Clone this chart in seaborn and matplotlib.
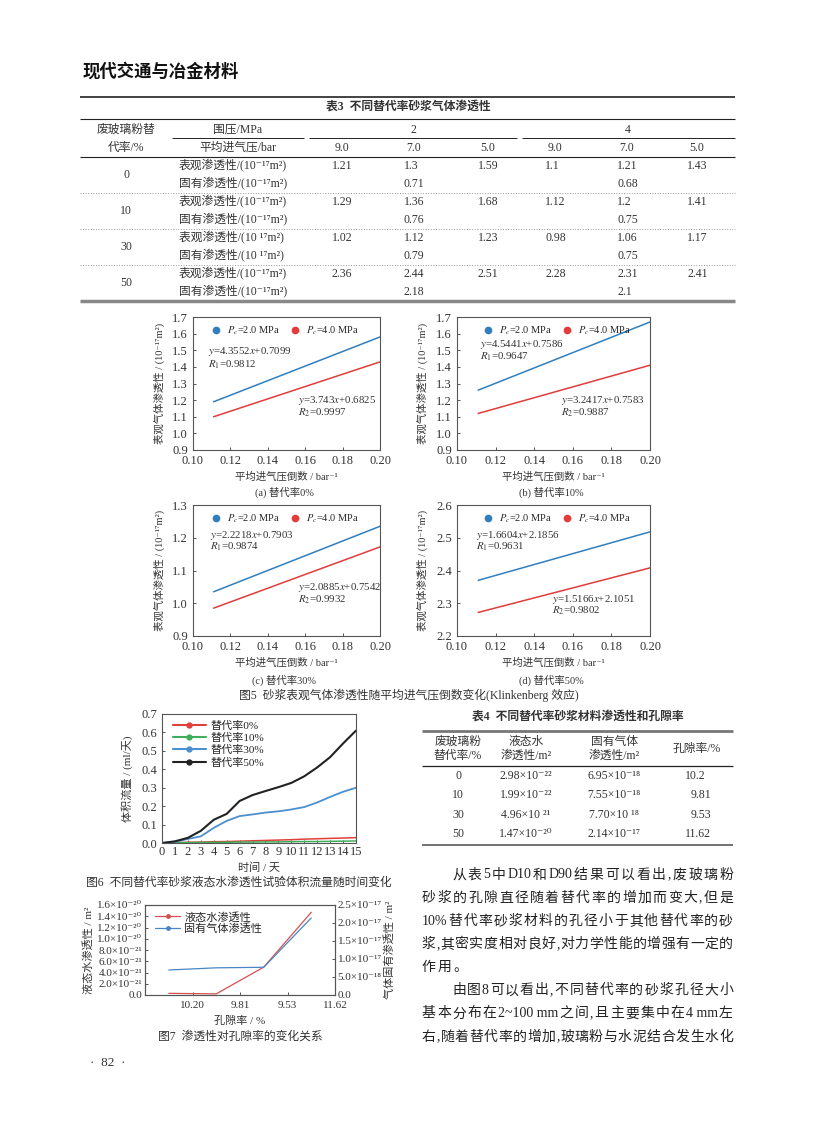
import re
import matplotlib
matplotlib.use("Agg")
import matplotlib.pyplot as plt
from matplotlib.lines import Line2D
import seaborn as sns

W, H = 816, 1145

# ---- table 3 data
RATES = ["0", "10", "30", "50"]
CONF_P = ["2", "4"]
MEAN_P = ["9.0", "7.0", "5.0", "9.0", "7.0", "5.0"]
APPARENT = [["1.21", "1.3", "1.59", "1.1", "1.21", "1.43"],
            ["1.29", "1.36", "1.68", "1.12", "1.2", "1.41"],
            ["1.02", "1.12", "1.23", "0.98", "1.06", "1.17"],
            ["2.36", "2.44", "2.51", "2.28", "2.31", "2.41"]]
INTRINSIC = [["0.71", "0.68"], ["0.76", "0.75"], ["0.79", "0.75"], ["2.18", "2.1"]]
ROW_UNIT = ["(10⁻¹⁷m²)", "(10⁻¹⁷m²)", "(10 ¹⁷m²)", "(10⁻¹⁷m²)"]

# ---- figure 5 data (fitted lines, 1/9 bar .. 1/5 bar)
INV_P = [0.111, 0.200]
A_PC2, A_PC4 = [1.19, 1.58], [1.10, 1.43]
B_PC2, B_PC4 = [1.26, 1.67], [1.12, 1.41]
C_PC2, C_PC4 = [1.035, 1.235], [0.985, 1.172]
D_PC2, D_PC4 = [2.370, 2.518], [2.272, 2.408]
A_EQ = ["4.3552", "0.7099", "0.9812", "3.743", "0.6825", "0.9997"]
B_EQ = ["4.5441", "0.7586", "0.9647", "3.2417", "0.7583", "0.9887"]
C_EQ = ["2.2218", "0.7903", "0.9874", "2.0885", "0.7542", "0.9932"]
D_EQ = ["1.6604", "2.1856", "0.9631", "1.5166", "2.1051", "0.9802"]
AB_YT = [0.9, 1.0, 1.1, 1.2, 1.3, 1.4, 1.5, 1.6, 1.7]
C_YT = [0.9, 1.0, 1.1, 1.2, 1.3]
D_YT = [2.2, 2.3, 2.4, 2.5, 2.6]
X5_T = [0.10, 0.12, 0.14, 0.16, 0.18, 0.20]

# ---- figure 6 data
DAYS = list(range(16))
FLOW_0 = [0, 0.002, 0.004, 0.005, 0.007, 0.008, 0.010, 0.012, 0.014, 0.016, 0.018, 0.021, 0.023, 0.025, 0.027, 0.029]
FLOW_10 = [0, 0.001, 0.002, 0.003, 0.003, 0.004, 0.005, 0.005, 0.006, 0.006, 0.007, 0.008, 0.008, 0.009, 0.010, 0.011]
FLOW_30 = [0, 0.006, 0.022, 0.036, 0.082, 0.120, 0.146, 0.155, 0.165, 0.172, 0.182, 0.195, 0.220, 0.250, 0.278, 0.300]
FLOW_50 = [0, 0.009, 0.028, 0.066, 0.126, 0.158, 0.228, 0.260, 0.282, 0.303, 0.326, 0.362, 0.410, 0.466, 0.540, 0.610]
FLOW_LABELS = ["替代率0%", "替代率10%", "替代率30%", "替代率50%"]

# ---- table 4 / figure 7 data
WATER_PERM = [2.98e-22, 1.99e-22, 4.96e-21, 1.47e-20]
GAS_PERM = [6.95e-18, 7.55e-18, 7.70e-18, 2.14e-17]
POROSITY = ["10.2", "9.81", "9.53", "11.62"]
WATER_TXT = ["2.98×10⁻²²", "1.99×10⁻²²", "4.96×10 ²¹", "1.47×10⁻²⁰"]
GAS_TXT = ["6.95×10⁻¹⁸", "7.55×10⁻¹⁸", "7.70×10 ¹⁸", "2.14×10⁻¹⁷"]
POR_TICKS = ["10.20", "9.81", "9.53", "11.62"]
LEFT_T = [0, 2e-21, 4e-21, 6e-21, 8e-21, 1e-20, 1.2e-20, 1.4e-20, 1.6e-20]
LEFT_TL = ["0.0", "2.0×10⁻²¹", "4.0×10⁻²¹", "6.0×10⁻²¹", "8.0×10⁻²¹",
           "1.0×10⁻²⁰", "1.2×10⁻²⁰", "1.4×10⁻²⁰", "1.6×10⁻²⁰"]
RIGHT_T = [0, 5e-18, 1e-17, 1.5e-17, 2e-17, 2.5e-17]
RIGHT_TL = ["0.0", "5.0×10⁻¹⁸", "1.0×10⁻¹⁷", "1.5×10⁻¹⁷", "2.0×10⁻¹⁷", "2.5×10⁻¹⁷"]

BODY = ["从表5中D10和D90结果可以看出,废玻璃粉",
        "砂浆的孔隙直径随着替代率的增加而变大,但是",
        "10%替代率砂浆材料的孔径小于其他替代率的砂",
        "浆,其密实度相对良好,对力学性能的增强有一定的",
        "作用。",
        "由图8可以看出,不同替代率的砂浆孔径大小",
        "基本分布在2~100 mm之间,且主要集中在4 mm左",
        "右,随着替代率的增加,玻璃粉与水泥结合发生水化"]

sns.set_theme(style="ticks")
SERIF = ["Liberation Serif", "DejaVu Serif", "Noto Sans CJK SC"]
plt.rcParams["font.family"] = SERIF
plt.rcParams["mathtext.fontset"] = "stix"
INK = "#333333"
BLUE, RED = "#2f7fc0", "#e03c3c"

fig = plt.figure(figsize=(W / 100, H / 100), dpi=100)
page = fig.add_axes([0, 0, 1, 1], zorder=-1)
page.set_xlim(0, W)
page.set_ylim(H, 0)
page.axis("off")


def txt(x, y, s, size=8.5, ha="center", **kw):
    return page.text(x, y, s, fontsize=size, ha=ha, va="center", color=INK, **kw)


def hline(y, x0, x1, lw=0.8, color="#222222", ls="-"):
    page.plot([x0, x1], [y, y], lw=lw, color=color, ls=ls, solid_capstyle="butt")


def px_axes(l, t, r, b):
    return fig.add_axes([l / W, 1 - b / H, (r - l) / W, (b - t) / H])


def style_ax(ax, size=8.5):
    for s in ax.spines.values():
        s.set_color("#555555")
        s.set_linewidth(0.8)
    ax.tick_params(direction="in", length=2.5, width=0.7, labelsize=size,
                   colors="#555555", labelcolor=INK)


# ---- header
page.text(83, 72, "现代交通与冶金材料", fontsize=12.5, fontweight="black",
          family="Noto Sans CJK SC", va="center", ha="left", color="#111111")

# ---- table 3
hline(97, 80, 735, lw=1.2)
txt(408, 108, "表3  不同替代率砂浆气体渗透性", size=8.5, fontweight="bold")
hline(119, 80, 735, lw=0.8)
txt(126, 130, "废玻璃粉替")
txt(126, 148, "代率/%")
txt(238, 130, "围压/MPa")
txt(238, 148, "平均进气压/bar")
txt(413, 130, CONF_P[0])
txt(628, 130, CONF_P[1])
hline(138, 172, 304, lw=0.7)
hline(138, 309, 517, lw=0.7)
hline(138, 522, 735, lw=0.7)
col_x = [342, 414, 488, 555, 627, 697]
for cx, p in zip(col_x, MEAN_P):
    txt(cx, 148, p)
hline(157, 80, 735, lw=0.8)
for i, rate in enumerate(RATES):
    y0 = 166 + 36 * i
    txt(126, y0 + 9, rate)
    txt(179, y0, "表观渗透性/" + ROW_UNIT[i], ha="left")
    txt(179, y0 + 18, "固有渗透性/" + ROW_UNIT[i], ha="left")
    for cx, v in zip(col_x, APPARENT[i]):
        txt(cx - 10, y0, v, ha="left")
    txt(col_x[1] - 10, y0 + 18, INTRINSIC[i][0], ha="left")
    txt(col_x[4] - 10, y0 + 18, INTRINSIC[i][1], ha="left")
    if i < 3:
        hline(y0 + 27, 80, 735, lw=0.7, color="#999999", ls=":")
hline(301, 80, 735, lw=2.5, color="#888888")

# ---- figure 5
panels = [
    ((193, 317, 380, 450), "(a) 替代率0%", 492, A_PC2, A_PC4, AB_YT, A_EQ,
     [(0.08, 0.74), (0.08, 0.64), (0.56, 0.375), (0.56, 0.28)], (0.03, 1.0)),
    ((457, 317, 650, 450), "(b) 替代率10%", 492, B_PC2, B_PC4, AB_YT, B_EQ,
     [(0.12, 0.79), (0.12, 0.70), (0.54, 0.375), (0.54, 0.28)], (0.07, 1.0)),
    ((193, 505, 380, 636), "(c) 替代率30%", 680, C_PC2, C_PC4, C_YT, C_EQ,
     [(0.09, 0.77), (0.09, 0.68), (0.56, 0.37), (0.56, 0.28)], (0.03, 1.0)),
    ((457, 505, 650, 636), "(d) 替代率50%", 680, D_PC2, D_PC4, D_YT, D_EQ,
     [(0.10, 0.77), (0.10, 0.68), (0.49, 0.28), (0.49, 0.19)], (0.07, 1.0)),
]
for pos, cap, cap_y, y2, y4, yt, eq, eq_pos, leg_anchor in panels:
    ax = px_axes(*pos)
    sns.lineplot(x=INV_P, y=y2, ax=ax, color=BLUE, lw=1.1)
    sns.lineplot(x=INV_P, y=y4, ax=ax, color=RED, lw=1.1)
    ax.set_xlim(0.10, 0.20)
    ax.set_ylim(yt[0], yt[-1])
    ax.set_xticks(X5_T)
    ax.set_xticklabels(["%.2f" % v for v in X5_T])
    ax.set_yticks(yt)
    ax.set_yticklabels(["%.1f" % v for v in yt])
    style_ax(ax, 9)
    ax.set_xlabel("平均进气压倒数 / bar⁻¹", fontsize=7.5, color=INK)
    ax.set_ylabel("表观气体渗透性 / (10⁻¹⁷m²)", fontsize=7.5, color=INK)
    ax.xaxis.set_label_coords(0.5, -0.16)
    ax.yaxis.set_label_coords(-0.15, 0.5)
    handles = [Line2D([], [], ls="", marker="o", ms=4.5, color=BLUE),
               Line2D([], [], ls="", marker="o", ms=4.5, color=RED)]
    ax.legend(handles, ["$P_c$=2.0 MPa", "$P_c$=4.0 MPa"], loc="upper left",
              bbox_to_anchor=leg_anchor, ncol=2, frameon=False, fontsize=7.5,
              handletextpad=0.0, columnspacing=0.5, borderaxespad=0.3)
    tk = dict(transform=ax.transAxes, fontsize=7.8, color=INK, va="center")
    ax.text(*eq_pos[0], "$y$=%s$x$+%s" % (eq[0], eq[1]), **tk)
    ax.text(*eq_pos[1], "$R_1$=%s" % eq[2], **tk)
    ax.text(*eq_pos[2], "$y$=%s$x$+%s" % (eq[3], eq[4]), **tk)
    ax.text(*eq_pos[3], "$R_2$=%s" % eq[5], **tk)
    txt((pos[0] + pos[2]) / 2 - 2, cap_y, cap, size=7.5)
txt(409, 695, "图5  砂浆表观气体渗透性随平均进气压倒数变化(Klinkenberg 效应)", size=8.5)

# ---- figure 6
ax6 = px_axes(162, 714, 356, 843)
flow_colors = ["#e0403a", "#3fae5a", "#4a8fd0", "#222222"]
for ys, c, w in zip([FLOW_0, FLOW_10, FLOW_30, FLOW_50], flow_colors, [1.1, 1.1, 1.3, 1.5]):
    sns.lineplot(x=DAYS, y=ys, ax=ax6, color=c, lw=w)
ax6.set_xlim(0, 15)
ax6.set_ylim(0, 0.7)
ax6.set_xticks(DAYS)
ax6.set_yticks([0, 0.1, 0.2, 0.3, 0.4, 0.5, 0.6, 0.7])
ax6.set_yticklabels(["%.1f" % v for v in ax6.get_yticks()])
style_ax(ax6, 9)
ax6.tick_params(axis="x", pad=2)
ax6.set_xlabel("时间 / 天", fontsize=8, color=INK)
ax6.set_ylabel("体积流量 / (ml/天)", fontsize=8, color=INK)
ax6.xaxis.set_label_coords(0.5, -0.15)
ax6.yaxis.set_label_coords(-0.15, 0.5)
h6 = [Line2D([], [], color=c, lw=1.5, marker="o", ms=3.5) for c in flow_colors]
ax6.legend(h6, FLOW_LABELS, loc="upper left", bbox_to_anchor=(0.02, 1.0), frameon=False,
           fontsize=8, handlelength=3.0, handletextpad=0.4, labelspacing=0.2,
           borderaxespad=0.2)
txt(239, 883, "图6  不同替代率砂浆液态水渗透性试验体积流量随时间变化", size=8.5)

# ---- table 4
txt(578, 718, "表4  不同替代率砂浆材料渗透性和孔隙率", size=8.5, fontweight="bold")
hline(731, 422, 733, lw=2.0, color="#777777")
t4x = [458, 526, 614, 697]
txt(t4x[0], 742, "废玻璃粉")
txt(t4x[0], 756, "替代率/%")
txt(t4x[1], 742, "液态水")
txt(t4x[1], 756, "渗透性/m²")
txt(t4x[2], 742, "固有气体")
txt(t4x[2], 756, "渗透性/m²")
txt(t4x[3], 749, "孔隙率/%")
hline(766, 422, 733, lw=0.9)
for i in range(4):
    y = 776 + 19.3 * i
    txt(t4x[0], y, RATES[i])
    txt(t4x[1], y, WATER_TXT[i])
    txt(t4x[2], y, GAS_TXT[i])
    txt(685 if POROSITY[i].startswith("1") else 691, y, POROSITY[i], ha="left")
hline(845, 422, 733, lw=1.3, color="#666666")

# ---- figure 7
ax7 = px_axes(145, 905, 335, 995)
ax7b = ax7.twinx()
por_idx = list(range(len(POROSITY)))
sns.lineplot(x=por_idx, y=WATER_PERM, ax=ax7, color="#d65050", lw=0.9)
sns.lineplot(x=por_idx, y=GAS_PERM, ax=ax7b, color="#4a86c5", lw=0.9)
ax7.set_xlim(-0.5, 3.5)
ax7.set_xticks([0.5, 1.5, 2.5, 3.5])
ax7.set_xticklabels(POR_TICKS)
ax7.set_ylim(0, 1.6e-20)
ax7.set_yticks(LEFT_T)
ax7.set_yticklabels(LEFT_TL)
ax7b.set_ylim(0, 2.5e-17)
ax7b.set_yticks(RIGHT_T)
ax7b.set_yticklabels(RIGHT_TL)
style_ax(ax7, 8)
style_ax(ax7b, 8)
ax7.tick_params(axis="y", pad=2)
ax7.tick_params(axis="x", pad=4)
ax7b.tick_params(pad=2)
ax7.set_xlabel("孔隙率 / %", fontsize=8, color=INK)
ax7.set_ylabel("液态水渗透性 / m²", fontsize=8, color=INK)
ax7b.set_ylabel("气体固有渗透性 / m²", fontsize=8, color=INK, rotation=90)
ax7.xaxis.set_label_coords(0.5, -0.23)
ax7.yaxis.set_label_coords(-0.27, 0.5)
ax7b.yaxis.set_label_coords(1.26, 0.5)
h7 = [Line2D([], [], color="#d65050", lw=0.9, marker="o", ms=2.5),
      Line2D([], [], color="#4a86c5", lw=0.9, marker="o", ms=2.5)]
ax7b.legend(h7, ["液态水渗透性", "固有气体渗透性"], loc="upper left", bbox_to_anchor=(0.02, 1.0),
            frameon=False, fontsize=8, handlelength=2.2, handletextpad=0.4,
            labelspacing=0.1, borderaxespad=0.2)
txt(240, 1037, "图7  渗透性对孔隙率的变化关系", size=8.5)

# ---- body text (justified)
renderer = fig.canvas.get_renderer()


def body_line(s, y, x0, x1, justify=True, size=10):
    toks = re.findall(r"[A-Za-z0-9~%.\s]+|.", s)
    items = [page.text(0, y, t, fontsize=size, va="center", ha="left", color="#222222")
             for t in toks]
    widths = [t.get_window_extent(renderer).width for t in items]
    gap = (x1 - x0 - sum(widths)) / (len(items) - 1) if justify else 1.6
    x = x0
    for t, w in zip(items, widths):
        t.set_x(x)
        x += w + gap


for i, line in enumerate(BODY):
    y = 875 + 23.15 * i
    left = 452 if i in (0, 5) else 422
    body_line(line, y, left, 733, justify=(i != 4))

txt(108, 1063, "·  82  ·", size=9.5)

fig.savefig("out.png", dpi=100)
